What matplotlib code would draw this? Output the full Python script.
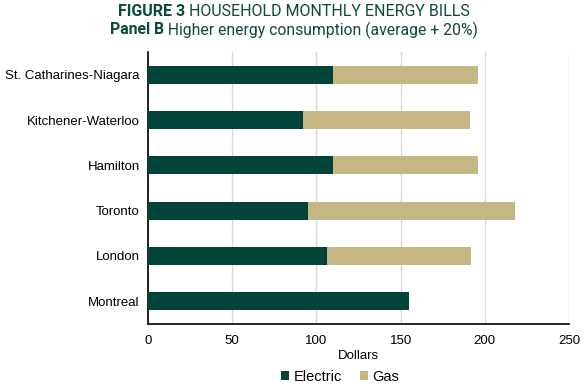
import numpy as np
import matplotlib
matplotlib.use('Agg')
import matplotlib.pyplot as plt

# data
cities = ['St. Catharines-Niagara', 'Kitchener-Waterloo', 'Hamilton',
          'Toronto', 'London', 'Montreal']
electric = [110, 92, 110, 95, 106, 155]
gas = [86, 99, 86, 123, 86, 0]

green = '#02443A'
tan = '#C5B783'
title_col = '#0D4A3B'

plt.rcParams['font.family'] = ['Liberation Sans', 'DejaVu Sans']

fig = plt.figure(figsize=(5.87, 3.88), dpi=100)
ax = fig.add_axes([148/587, 1 - 324/388, (569-148)/587, (324-52)/388])

y = np.arange(len(cities))
ax.barh(y, electric, height=0.4, color=green, label='Electric', zorder=3)
ax.barh(y, gas, left=electric, height=0.4, color=tan, label='Gas', zorder=3)

ax.set_ylim(len(cities) - 0.5, -0.5)
ax.set_yticks(y)
ax.set_yticklabels(cities, fontsize=9.5)
ax.set_xlim(0, 250)
ax.set_xticks([0, 50, 100, 150, 200, 250])
ax.tick_params(axis='x', labelsize=9.5, length=0, pad=8)
ax.tick_params(axis='y', length=0, pad=6)
ax.set_xlabel('Dollars', fontsize=9.5, labelpad=2)
ax.grid(axis='x', color='#D9D9D9', linewidth=1, zorder=0)
for s in ['top', 'right']:
    ax.spines[s].set_visible(False)
ax.spines['left'].set_color('black')
ax.spines['bottom'].set_color('black')
ax.spines['left'].set_linewidth(1.2)
ax.spines['bottom'].set_linewidth(1.2)

leg = fig.legend(loc='center', bbox_to_anchor=(340/587, 1 - 377/388), ncol=2,
                 frameon=False, fontsize=10.5, handlelength=0.6, handleheight=0.6,
                 handletextpad=0.3, columnspacing=1.2)

# two-part centred title lines
renderer = fig.canvas.get_renderer()
def title_line(bold, rest, ypix, size):
    t1 = fig.text(0, 0, bold, fontsize=size, fontweight='bold', color=title_col,
                  family='Roboto')
    t2 = fig.text(0, 0, ' ' + rest, fontsize=size, color=title_col, family='Roboto')
    w1 = t1.get_window_extent(renderer).width
    w2 = t2.get_window_extent(renderer).width
    x0 = (587 - w1 - w2) / 2
    t1.set_position((x0 / 587, 1 - ypix / 388))
    t2.set_position(((x0 + w1) / 587, 1 - ypix / 388))
    t1.set_va('center')
    t2.set_va('center')

title_line('FIGURE 3', 'HOUSEHOLD MONTHLY ENERGY BILLS', 12, 11.5)
title_line('Panel B', 'Higher energy consumption (average + 20%)', 30, 11.3)

fig.savefig('out.png', dpi=100)
